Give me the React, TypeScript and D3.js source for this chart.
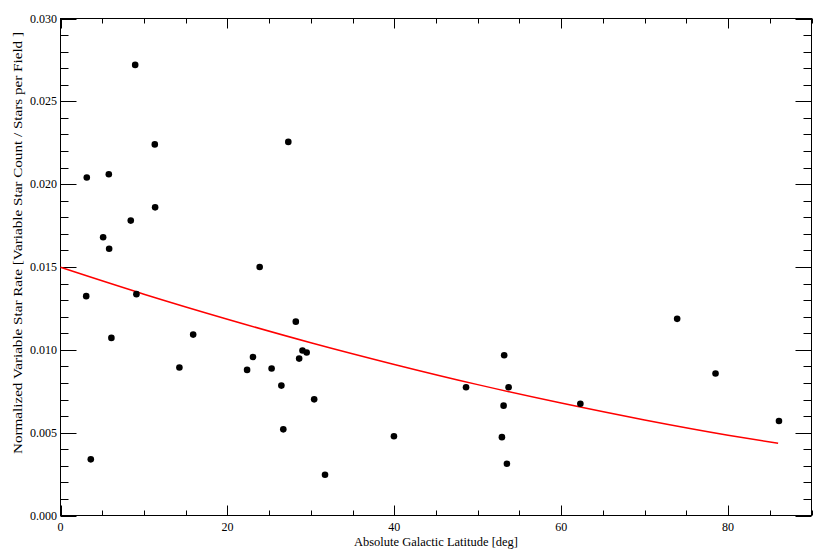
import React, { useEffect, useRef } from 'react';
import * as d3 from 'd3';

// absolute galactic latitude of each field [deg]
const latitude = [
  8.95, 11.3, 27.3, 3.15, 5.79, 11.34, 8.42, 5.11, 5.83,
  23.87, 3.08, 9.1, 6.1, 15.9, 28.2, 29.0, 29.5, 28.6, 23.07, 22.36, 14.25,
  25.3, 26.47, 30.4, 26.7, 3.63, 31.7,
  53.17, 48.6, 53.7, 53.1, 39.96, 52.9, 53.5, 62.3, 73.9, 78.5, 86.1,
];
// normalized variable star rate for each field
const rate = [
  0.0272, 0.0224, 0.02255, 0.0204, 0.0206, 0.0186, 0.0178, 0.0168, 0.0161,
  0.015, 0.01324, 0.01336, 0.01072, 0.01092, 0.0117, 0.00996, 0.00984, 0.00947, 0.00957, 0.00879, 0.00893,
  0.00887, 0.00784, 0.00701, 0.0052, 0.00339, 0.00246,
  0.00967, 0.00774, 0.00774, 0.00663, 0.00478, 0.00473, 0.00312, 0.00675, 0.01187, 0.00857, 0.0057,
];
// fitted curve
const fitLat = [0, 10, 20, 30, 40, 50, 60, 70, 80, 86];
const fitRate = [0.01498, 0.01336, 0.01185, 0.01043, 0.00912, 0.0079, 0.00679, 0.00577, 0.00485, 0.00436];

const xMajor = [0, 20, 40, 60, 80];
const yMajor = [0, 0.005, 0.01, 0.015, 0.02, 0.025, 0.03];

const W = 830;
const H = 554;
const left = 60.5;
const right = 811.5;
const top = 18.5;
const bottom = 515.5;
const font = '"Liberation Serif", "DejaVu Serif", serif';

export default function App() {
  const ref = useRef<SVGSVGElement>(null);

  useEffect(() => {
    const svg = d3.select(ref.current);
    svg.selectAll('*').remove();

    const x = d3.scaleLinear().domain([0, 90]).range([left, right]);
    const y = d3.scaleLinear().domain([0, 0.03]).range([bottom, top]);

    const xMinor = d3.range(0, 91, 5).filter((d) => d % 20 !== 0);
    const yMinor = d3.range(0, 31).map((d) => d / 1000).filter((d, i) => i % 5 !== 0);

    const g = svg.append('g').attr('stroke', '#000').attr('stroke-width', 1);

    // frame
    g.append('rect')
      .attr('x', left)
      .attr('y', top)
      .attr('width', right - left)
      .attr('height', bottom - top)
      .attr('fill', 'none');

    // x ticks bottom and top
    const xt = (vals: number[], len: number) => {
      vals.forEach((v) => {
        const px = Math.round(x(v)) + 0.5;
        g.append('line').attr('x1', px).attr('x2', px).attr('y1', bottom).attr('y2', bottom - len);
        g.append('line').attr('x1', px).attr('x2', px).attr('y1', top).attr('y2', top + len);
      });
    };
    xt(xMajor, 10);
    xt(xMinor, 5);

    // y ticks left and right
    const yt = (vals: number[], len: number) => {
      vals.forEach((v) => {
        const py = Math.round(y(v)) + 0.5;
        g.append('line').attr('x1', left).attr('x2', left + len).attr('y1', py).attr('y2', py);
        g.append('line').attr('x1', right).attr('x2', right - len).attr('y1', py).attr('y2', py);
      });
    };
    yt(yMajor, 16);
    yt(yMinor, 8);

    const labels = svg.append('g').attr('font-family', font).attr('font-size', 12).attr('fill', '#000');

    labels
      .selectAll('text.xl')
      .data(xMajor)
      .enter()
      .append('text')
      .attr('x', (d) => x(d))
      .attr('y', 531)
      .attr('text-anchor', 'middle')
      .text((d) => d);

    labels
      .selectAll('text.yl')
      .data(yMajor)
      .enter()
      .append('text')
      .attr('x', 57)
      .attr('y', (d) => y(d) + 4)
      .attr('text-anchor', 'end')
      .text((d) => d3.format('.3f')(d));

    labels
      .append('text')
      .attr('x', 436)
      .attr('y', 546)
      .attr('text-anchor', 'middle')
      .attr('font-size', 12.5)
      .attr('textLength', 164)
      .attr('lengthAdjust', 'spacingAndGlyphs')
      .text('Absolute Galactic Latitude [deg]');

    labels
      .append('text')
      .attr('transform', 'translate(22,243) rotate(-90)')
      .attr('text-anchor', 'middle')
      .attr('font-size', 13)
      .attr('textLength', 422)
      .attr('lengthAdjust', 'spacingAndGlyphs')
      .text('Normalized Variable Star Rate [Variable Star Count / Stars per Field ]');

    // fit
    const line = d3
      .line<number>()
      .x((d) => x(d))
      .y((d, i) => y(fitRate[i]))
      .curve(d3.curveMonotoneX);
    svg.append('path')
      .attr('d', line(fitLat))
      .attr('fill', 'none')
      .attr('stroke', '#ff0000')
      .attr('stroke-width', 1.5);

    // points
    svg.append('g')
      .selectAll('circle')
      .data(latitude)
      .enter()
      .append('circle')
      .attr('cx', (d) => x(d))
      .attr('cy', (d, i) => y(rate[i]))
      .attr('r', 3.3)
      .attr('fill', '#000');
  }, []);

  return (
    <svg
      ref={ref}
      width={W}
      height={H}
      style={{ position: 'absolute', left: 0, top: 0, background: '#fff' }}
    />
  );
}
